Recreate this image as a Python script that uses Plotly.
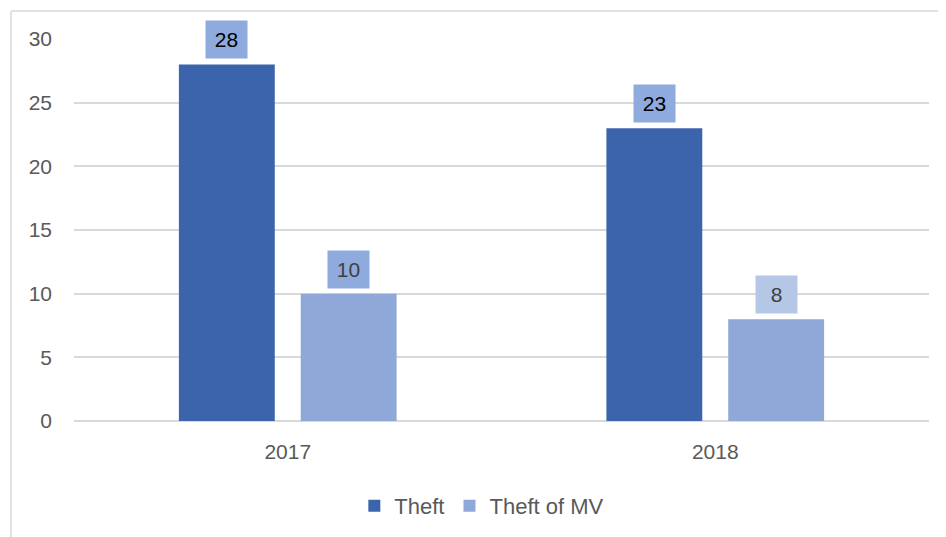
import plotly.graph_objects as go

years = ["2017", "2018"]
theft = [28, 23]
theft_mv = [10, 8]
series_names = ["Theft", "Theft of MV"]
y_ticks = [0, 5, 10, 15, 20, 25, 30]

c_theft = "#3b64ad"
c_mv = "#8fa8d8"
label_bg_theft = ["#8faadc", "#8faadc"]
label_bg_mv = ["#8faadc", "#b4c7e7"]

fig = go.Figure()
fig.add_trace(go.Bar(x=years, y=theft, name=series_names[0], marker_color=c_theft,
                     marker_line_width=0))
fig.add_trace(go.Bar(x=years, y=theft_mv, name=series_names[1], marker_color=c_mv,
                     marker_line_width=0))

font = "Liberation Sans, Arial, sans-serif"
annotations = []
for i, yr in enumerate(years):
    for vals, shift, bgs in ((theft, -61, label_bg_theft), (theft_mv, 61, label_bg_mv)):
        annotations.append(dict(
            x=i, y=vals[i], xref="x", yref="y", xshift=shift, yshift=5,
            yanchor="bottom", text=str(vals[i]), showarrow=False,
            bgcolor=bgs[i], borderpad=7, width=27, height=23,
            font=dict(family=font, size=21, color="#000000" if vals is theft else "#404040"),
        ))

L, T, PW, PH = 66, 31, 855, 382
fig.update_layout(
    width=946, height=537,
    margin=dict(l=L, r=946 - L - PW, t=T, b=537 - T - PH),
    paper_bgcolor="white", plot_bgcolor="white",
    barmode="group", bargap=0.43, bargroupgap=0.213,
    showlegend=True,
    legend=dict(orientation="h", x=0.477, xanchor="center", y=-0.2225, yanchor="middle",
                font=dict(family=font, size=22, color="#595959"), traceorder="normal",
                itemwidth=30),
    annotations=annotations,
    font=dict(family=font, size=21, color="#595959"),
    shapes=[
        dict(type="line", xref="paper", yref="paper", x0=(3 - L) / PW, x1=1.2,
             y0=1 + 28 / PH, y1=1 + 28 / PH, line=dict(color="#d9d9d9", width=1.5)),
        dict(type="line", xref="paper", yref="paper", x0=(3 - L) / PW, x1=(3 - L) / PW,
             y0=1 + 28 / PH, y1=-0.5, line=dict(color="#d9d9d9", width=1.5)),
    ],
)
fig.update_xaxes(type="category", range=[-0.5, 1.5], showgrid=False, showline=False, ticks="",
                 ticklabelstandoff=16,
                 tickfont=dict(family=font, size=21, color="#595959"))
fig.update_yaxes(range=[0, 30], tickvals=y_ticks, showgrid=True, gridcolor="#d9d9d9",
                 gridwidth=1.5, zeroline=True, zerolinecolor="#d9d9d9", zerolinewidth=1.5,
                 showline=False, ticks="", ticklabelstandoff=21,
                 tickfont=dict(family=font, size=21, color="#595959"))

fig.write_html("out.html")
